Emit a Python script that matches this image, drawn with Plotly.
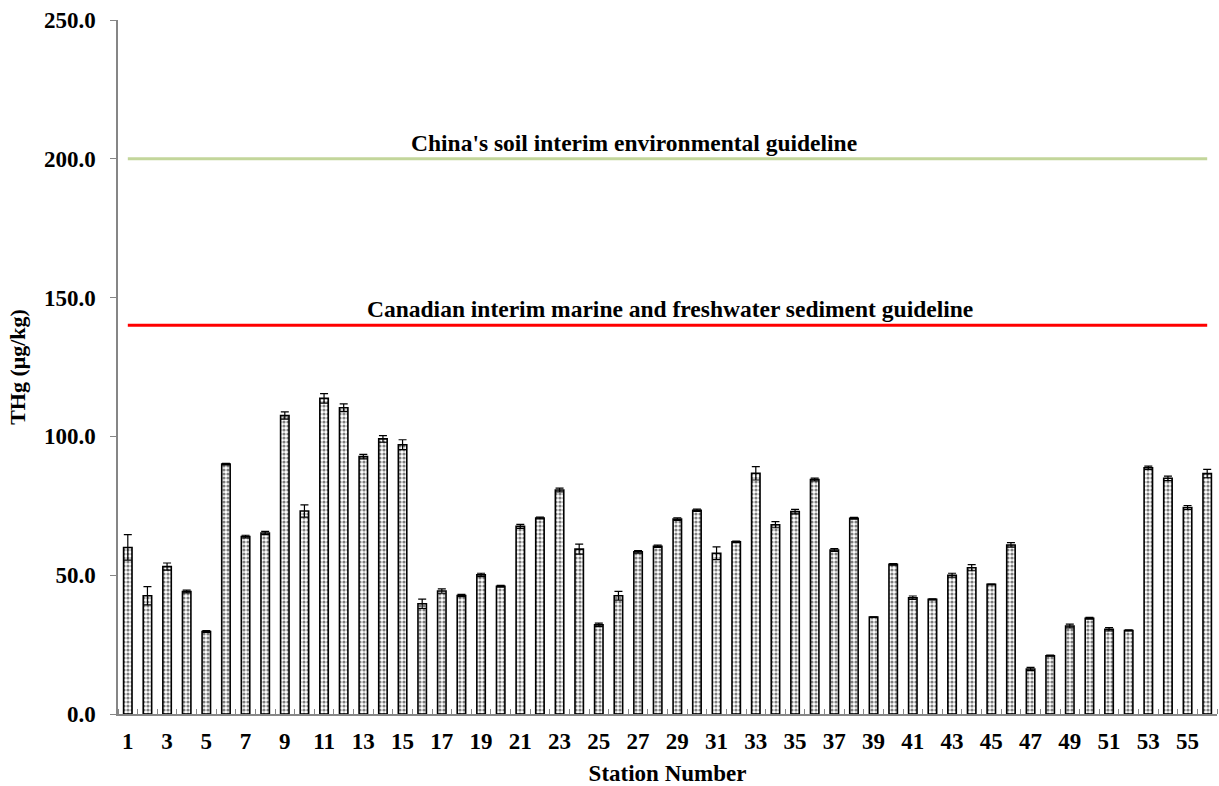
import plotly.graph_objects as go

stations = list(range(1, 57))
thg = [60.0, 42.6, 53.1, 44.1, 29.7, 90.0, 63.9, 65.2, 107.5, 73.1,
       113.7, 110.3, 92.7, 99.1, 97.0, 39.7, 44.3, 42.7, 50.1, 46.0,
       67.6, 70.6, 80.7, 59.4, 32.1, 42.6, 58.4, 60.4, 70.2, 73.4,
       57.9, 62.0, 86.7, 68.2, 72.9, 84.5, 59.1, 70.5, 34.9, 53.9,
       41.9, 41.3, 50.0, 52.7, 46.7, 60.9, 16.2, 21.0, 31.7, 34.5,
       30.5, 30.1, 88.7, 84.9, 74.4, 86.6]
thg_err = [4.6, 3.3, 1.3, 0.5, 0.3, 0.3, 0.5, 0.6, 1.3, 2.2,
           1.7, 1.4, 0.8, 1.2, 1.8, 1.7, 0.8, 0.4, 0.6, 0.3,
           0.7, 0.3, 0.7, 1.8, 0.6, 1.6, 0.5, 0.4, 0.5, 0.4,
           2.3, 0.3, 2.4, 1.1, 0.8, 0.5, 0.5, 0.3, 0.1, 0.3,
           0.6, 0.2, 0.7, 1.1, 0.1, 0.8, 0.6, 0.2, 0.7, 0.3,
           0.6, 0.2, 0.6, 0.8, 0.7, 1.5]

china_guideline = 200.0
canada_guideline = 140.0
china_label = "China's soil interim environmental guideline"
canada_label = "Canadian interim marine and freshwater sediment guideline"

x_tick_vals = list(range(1, 57, 2))
x_tick_text = [str(v) for v in x_tick_vals]
y_tick_vals = [0, 50, 100, 150, 200, 250]
boundaries = [s - 0.5 for s in stations] + [56.5]

FONT = "Liberation Serif"

fig = go.Figure()

fig.add_trace(go.Bar(
    x=stations, y=thg, width=0.43,
    marker=dict(color="white",
                line=dict(color="black", width=1.6),
                pattern=dict(shape=".", fgcolor="black", bgcolor="white",
                             size=4, solidity=0.5)),
    error_y=dict(type="data", array=thg_err, visible=True,
                 color="black", thickness=1.2, width=4),
    showlegend=False,
))

fig.add_trace(go.Scatter(
    x=[stations[0], stations[-1]], y=[china_guideline, china_guideline],
    mode="lines", line=dict(color="#c3d69b", width=3), showlegend=False,
))
fig.add_trace(go.Scatter(
    x=[stations[0], stations[-1]], y=[canada_guideline, canada_guideline],
    mode="lines", line=dict(color="#ff0000", width=3), showlegend=False,
))

fig.add_annotation(x=26.79, y=china_guideline, text="<b>" + china_label + "</b>",
                   showarrow=False, yanchor="bottom", yshift=1,
                   font=dict(family=FONT, size=23.5, color="black"))
fig.add_annotation(x=28.63, y=canada_guideline, text="<b>" + canada_label + "</b>",
                   showarrow=False, yanchor="bottom", yshift=1,
                   font=dict(family=FONT, size=23.5, color="black"))

fig.update_layout(
    width=1219, height=786,
    margin=dict(l=118, r=2, t=20, b=72),
    plot_bgcolor="white", paper_bgcolor="white",
    bargap=0.57,
    font=dict(family=FONT, color="black"),
    xaxis=dict(
        range=[0.5, 56.5],
        tickmode="array", tickvals=x_tick_vals, ticktext=x_tick_text,
        ticks="", showgrid=False, zeroline=False,
        showline=True, linecolor="#868686", linewidth=1.5,
        tickfont=dict(family=FONT, size=23, color="black", weight="bold"),
        ticklabelstandoff=6,
        minor=dict(tickvals=boundaries, ticks="inside", ticklen=5,
                   tickcolor="#868686", tickwidth=1, showgrid=False),
        title=dict(text="<b>Station Number</b>", standoff=12,
                   font=dict(family=FONT, size=23, color="black")),
    ),
    yaxis=dict(
        range=[0, 250],
        tickmode="array", tickvals=y_tick_vals, tickformat=".1f",
        ticks="outside", ticklen=6, tickcolor="#868686", tickwidth=1,
        showgrid=False, zeroline=False,
        showline=True, linecolor="#868686", linewidth=1.5,
        tickfont=dict(family=FONT, size=23, color="black", weight="bold"),
        ticklabelstandoff=10,
        title=dict(text="<b>THg (μg/kg)</b>", standoff=12,
                   font=dict(family=FONT, size=22, color="black")),
    ),
)

fig.write_html("out.html", config={"displayModeBar": False},
               post_script="document.body.style.margin='0';document.body.style.overflow='hidden';")
